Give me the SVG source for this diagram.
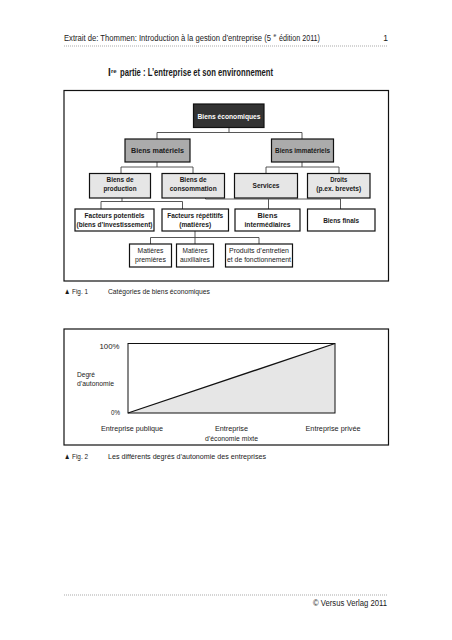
<svg xmlns="http://www.w3.org/2000/svg" width="452" height="640" viewBox="0 0 452 640">
<style>
text{font-family:"Liberation Sans","DejaVu Sans",sans-serif;fill:#1a1a1a}
.h{font-size:8.5px}
.t{font-size:10px;font-weight:bold}
.nb{font-size:7.2px;font-weight:bold;text-anchor:middle}
.nn{font-size:7.2px;text-anchor:middle}
.c{font-size:8px}
.dot{stroke:#777;stroke-width:0.8;stroke-dasharray:0.8 1.2;fill:none}
.frame{fill:none;stroke:#111;stroke-width:1.2}
.box{stroke:#111;stroke-width:1.2}
.conn line{stroke:#444;stroke-width:0.9}
</style>
<rect width="452" height="640" fill="#fff"/>
<g id="header">
<text class="h"><tspan x="64" y="41" textLength="207" lengthAdjust="spacingAndGlyphs">Extrait de: Thommen: Introduction à la gestion d’entreprise (5</tspan><tspan x="273.5" y="37" style="font-size:5px">e</tspan><tspan x="279" y="41" textLength="41" lengthAdjust="spacingAndGlyphs">édition 2011)</tspan></text>
<text class="h" x="388" y="41" text-anchor="end">1</text>
<line class="dot" x1="64" y1="46" x2="388" y2="46"/>
</g>
<g id="title">
<text class="t"><tspan x="108" y="76">I</tspan><tspan x="111" y="72.5" style="font-size:6px">re</tspan><tspan x="120" y="76" textLength="153" lengthAdjust="spacingAndGlyphs">partie : L’entreprise et son environnement</tspan></text>
</g>

<rect class="frame" x="64" y="90.5" width="324.5" height="190.5"/>

<g class="conn">
<line x1="229" y1="127.5" x2="229" y2="132.5"/>
<line x1="157" y1="132.5" x2="302" y2="132.5"/>
<line x1="157" y1="132.5" x2="157" y2="139"/>
<line x1="302" y1="132.5" x2="302" y2="139"/>
<line x1="157" y1="162" x2="157" y2="167"/>
<line x1="121" y1="167" x2="193" y2="167"/>
<line x1="121" y1="167" x2="121" y2="173.5"/>
<line x1="193" y1="167" x2="193" y2="173.5"/>
<line x1="302" y1="162" x2="302" y2="167"/>
<line x1="266" y1="167" x2="339" y2="167"/>
<line x1="266" y1="167" x2="266" y2="173.5"/>
<line x1="339" y1="167" x2="339" y2="173.5"/>
<line x1="122" y1="198" x2="122" y2="201.5"/>
<line x1="101" y1="201.5" x2="182.5" y2="201.5"/>
<line x1="101" y1="201.5" x2="101" y2="209"/>
<line x1="182.5" y1="201.5" x2="182.5" y2="209"/>
<line x1="205.5" y1="198" x2="205.5" y2="199"/>
<line x1="205.5" y1="199" x2="340.5" y2="199"/>
<line x1="268.5" y1="199" x2="268.5" y2="209"/>
<line x1="340.5" y1="199" x2="340.5" y2="209"/>
<line x1="195" y1="231" x2="195" y2="244"/>
<line x1="150.5" y1="237.5" x2="259" y2="237.5"/>
<line x1="150.5" y1="237.5" x2="150.5" y2="244"/>
<line x1="259" y1="237.5" x2="259" y2="244"/>
</g>

<g id="biens-economiques"><rect class="box" x="193.5" y="104" width="70.5" height="23.5" fill="#333"/><text class="nb" x="229" y="118.5" style="fill:#fff" textLength="63" lengthAdjust="spacingAndGlyphs">Biens économiques</text></g>
<g id="biens-materiels"><rect class="box" x="125" y="139" width="65" height="23" fill="#ababab"/><text class="nb" x="157.5" y="153" textLength="53" lengthAdjust="spacingAndGlyphs">Biens matériels</text></g>
<g id="biens-immateriels"><rect class="box" x="271.5" y="139" width="62" height="23" fill="#ababab"/><text class="nb" x="302.5" y="153" textLength="55" lengthAdjust="spacingAndGlyphs">Biens immatériels</text></g>

<g id="biens-production"><rect class="box" x="89.5" y="173.5" width="61" height="24.5" fill="#e6e6e6"/><text class="nb" x="120" y="182" textLength="27" lengthAdjust="spacingAndGlyphs">Biens de</text><text class="nb" x="120" y="191" textLength="33" lengthAdjust="spacingAndGlyphs">production</text></g>
<g id="biens-consommation"><rect class="box" x="162" y="173.5" width="62.5" height="24.5" fill="#e6e6e6"/><text class="nb" x="193.2" y="182" textLength="27" lengthAdjust="spacingAndGlyphs">Biens de</text><text class="nb" x="193.2" y="191" textLength="47" lengthAdjust="spacingAndGlyphs">consommation</text></g>
<g id="services"><rect class="box" x="234.5" y="173.5" width="63" height="24.5" fill="#e6e6e6"/><text class="nb" x="266" y="188" textLength="27" lengthAdjust="spacingAndGlyphs">Services</text></g>
<g id="droits"><rect class="box" x="307.5" y="173.5" width="62.5" height="24.5" fill="#e6e6e6"/><text class="nb" x="338.7" y="182" textLength="17" lengthAdjust="spacingAndGlyphs">Droits</text><text class="nb" x="338.7" y="191" textLength="45" lengthAdjust="spacingAndGlyphs">(p.ex. brevets)</text></g>

<g id="facteurs-potentiels"><rect class="box" x="75" y="209" width="79" height="22" fill="#fff"/><text class="nb" x="114.5" y="217.5" textLength="60" lengthAdjust="spacingAndGlyphs">Facteurs potentiels</text><text class="nb" x="114.5" y="227" textLength="76" lengthAdjust="spacingAndGlyphs">(biens d’investissement)</text></g>
<g id="facteurs-repetitifs"><rect class="box" x="162" y="209" width="66.5" height="22" fill="#fff"/><text class="nb" x="195.2" y="217.5" textLength="56" lengthAdjust="spacingAndGlyphs">Facteurs répétitifs</text><text class="nb" x="195.2" y="227" textLength="32" lengthAdjust="spacingAndGlyphs">(matières)</text></g>
<g id="biens-intermediaires"><rect class="box" x="235" y="209" width="65" height="22" fill="#fff"/><text class="nb" x="267.5" y="217.5" textLength="20" lengthAdjust="spacingAndGlyphs">Biens</text><text class="nb" x="267.5" y="227" textLength="46" lengthAdjust="spacingAndGlyphs">intermédiaires</text></g>
<g id="biens-finals"><rect class="box" x="307.5" y="209" width="67.5" height="22" fill="#fff"/><text class="nb" x="341.2" y="222.5" textLength="36" lengthAdjust="spacingAndGlyphs">Biens finals</text></g>

<g id="matieres-premieres"><rect class="box" x="129.5" y="244" width="42" height="23" fill="#fff"/><text class="nn" x="150.5" y="252.5" textLength="26" lengthAdjust="spacingAndGlyphs">Matières</text><text class="nn" x="150.5" y="261.5" textLength="31" lengthAdjust="spacingAndGlyphs">premières</text></g>
<g id="matieres-auxiliaires"><rect class="box" x="176.5" y="244" width="37" height="23" fill="#fff"/><text class="nn" x="195" y="252.5" textLength="25" lengthAdjust="spacingAndGlyphs">Matières</text><text class="nn" x="195" y="261.5" textLength="30" lengthAdjust="spacingAndGlyphs">auxiliaires</text></g>
<g id="produits-entretien"><rect class="box" x="225.5" y="244" width="67" height="23" fill="#fff"/><text class="nn" x="259" y="252.5" textLength="60" lengthAdjust="spacingAndGlyphs">Produits d’entretien</text><text class="nn" x="259" y="261.5" textLength="64" lengthAdjust="spacingAndGlyphs">et de fonctionnement</text></g>

<g id="fig1-caption">
<text class="c" x="64" y="294" textLength="24" lengthAdjust="spacingAndGlyphs">▲ Fig. 1</text>
<text class="c" x="108" y="294" textLength="102" lengthAdjust="spacingAndGlyphs">Catégories de biens économiques</text>
</g>

<rect class="frame" x="64" y="329" width="324.5" height="116"/>
<g id="chart">
<polygon points="128,413 335,343.5 335,413" fill="#e6e6e6"/>
<rect x="128" y="343.5" width="207" height="69.5" fill="none" stroke="#111" stroke-width="1"/>
<line x1="128" y1="413" x2="335" y2="343.5" stroke="#111" stroke-width="1.3"/>
</g>
<g id="chart-labels">
<text class="c" x="119.5" y="349" text-anchor="end" textLength="20" lengthAdjust="spacingAndGlyphs">100%</text>
<text class="c" x="77" y="376.5" textLength="18" lengthAdjust="spacingAndGlyphs">Degré</text>
<text class="c" x="77" y="386" textLength="37" lengthAdjust="spacingAndGlyphs">d’autonomie</text>
<text class="c" x="120" y="414.5" text-anchor="end" textLength="9" lengthAdjust="spacingAndGlyphs">0%</text>
<text class="c" x="132" y="430.5" text-anchor="middle" textLength="62" lengthAdjust="spacingAndGlyphs">Entreprise publique</text>
<text class="c" x="231.5" y="430.5" text-anchor="middle" textLength="33" lengthAdjust="spacingAndGlyphs">Entreprise</text>
<text class="c" x="231.5" y="440.5" text-anchor="middle" textLength="53" lengthAdjust="spacingAndGlyphs">d’économie mixte</text>
<text class="c" x="333" y="430.5" text-anchor="middle" textLength="55" lengthAdjust="spacingAndGlyphs">Entreprise privée</text>
</g>

<g id="fig2-caption">
<text class="c" x="64" y="459" textLength="24" lengthAdjust="spacingAndGlyphs">▲ Fig. 2</text>
<text class="c" x="108" y="459" textLength="158" lengthAdjust="spacingAndGlyphs">Les différents degrés d’autonomie des entreprises</text>
</g>

<g id="footer">
<line class="dot" x1="64" y1="595" x2="388" y2="595"/>
<text class="h" x="313" y="606" textLength="74" lengthAdjust="spacingAndGlyphs">© Versus Verlag 2011</text>
</g>
</svg>
